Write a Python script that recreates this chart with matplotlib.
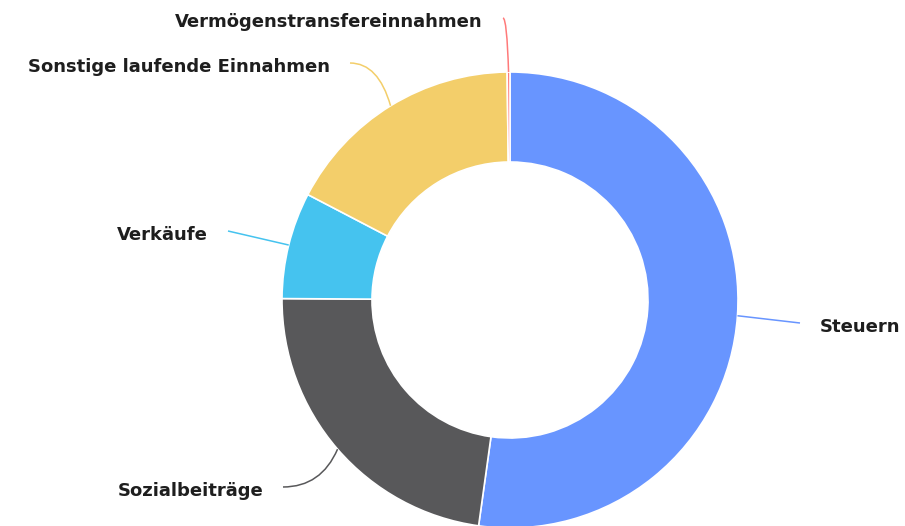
import numpy as np
import matplotlib.pyplot as plt
from matplotlib.path import Path
from matplotlib.patches import PathPatch

# data (share in %)
categories = ['Steuern', 'Sozialbeiträge', 'Verkäufe',
              'Sonstige laufende Einnahmen', 'Vermögenstransfereinnahmen']
values = [52.2, 22.9, 7.55, 17.15, 0.2]
colors = ['#6895ff', '#58585a', '#45c3ef', '#f3ce6a', '#ff7a7a']

# layout in pixels (figure is 905 x 526)
W, H = 905, 526
CX, CY, R_PX, R_IN = 510, 300, 228, 138
# label anchor (end of connector) in pixels, and whether connector is curved
label_anchor = [(800, 323), (283, 487), (228, 231), (350, 63), (503, 18)]
curved = [False, True, False, True, True]


def px(x, y):
    # pixel -> data units (radius = 1)
    return (x - CX) / R_PX, (CY - y) / R_PX


fig = plt.figure(figsize=(W / 100, H / 100), dpi=100)
ax = fig.add_axes([0, 0, 1, 1])

wedges, _ = ax.pie(values, colors=colors, startangle=90, counterclock=False,
                   radius=1, wedgeprops=dict(width=1 - R_IN / R_PX,
                                             edgecolor='white', linewidth=1.2))

ax.set_xlim(-CX / R_PX, (W - CX) / R_PX)
ax.set_ylim(-(H - CY) / R_PX, CY / R_PX)
ax.set_aspect('auto')
ax.axis('off')

for w, name, col, anchor, crv in zip(wedges, categories, colors, label_anchor, curved):
    mid = np.deg2rad((w.theta1 + w.theta2) / 2)
    sx, sy = np.cos(mid), np.sin(mid)
    lx, ly = px(*anchor)
    if crv:
        # horizontal near the label, bending towards the slice
        ctrl = (sx - (sx - lx) * 0.3, ly)
    else:
        ctrl = ((sx + lx) / 2, (sy + ly) / 2)
    path = Path([(lx, ly), ctrl, (sx, sy)],
                [Path.MOVETO, Path.CURVE3, Path.CURVE3])
    ax.add_patch(PathPatch(path, fc='none', ec=col, lw=1.1))

    right = lx > sx
    gap = 20 / R_PX
    tx = lx + gap if right else lx - gap
    ax.text(tx, ly - 4 / R_PX, name, ha='left' if right else 'right',
            va='center', fontsize=13, fontweight='bold', color='#1e1e1e')

plt.savefig('out.png', dpi=100)
